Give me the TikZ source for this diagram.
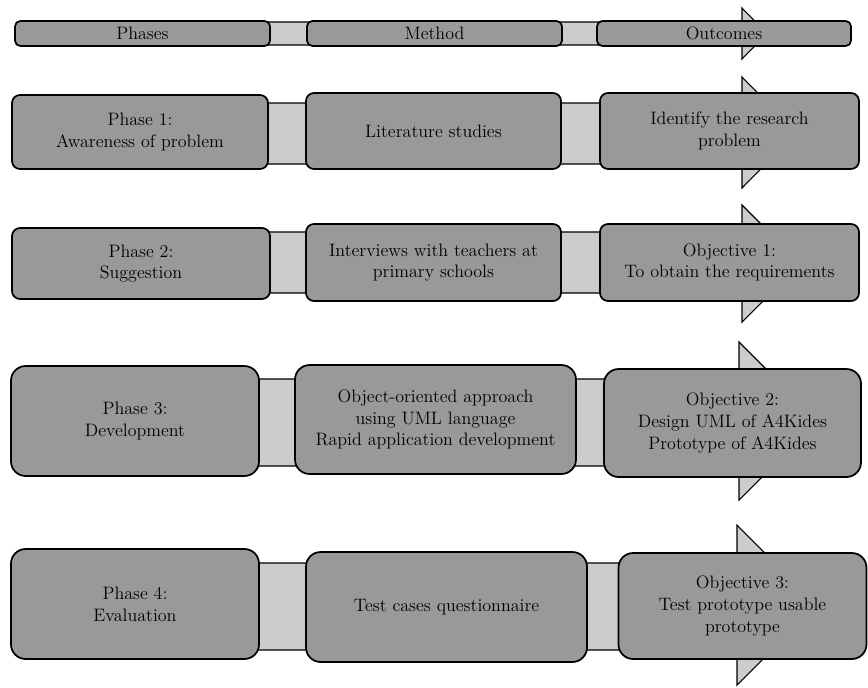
\documentclass[tikz,border=0pt]{standalone}
\usepackage{xcolor}
\definecolor{boxgray}{HTML}{999999}
\definecolor{bargray}{HTML}{CCCCCC}

\begin{document}
\begin{tikzpicture}[x=0.75pt, y=-0.75pt,
        stage/.style={draw, line width=1.3pt, fill=boxgray, align=center, inner sep=0pt, font=\fontsize{13.5}{16.3}\selectfont},
        headbox/.style={stage, rounded corners=4pt, minimum height=18.75pt},
        lowbox/.style={stage, rounded corners=6pt},
        tallbox/.style={stage, rounded corners=11pt},
        shaft/.style={draw, line width=0.8pt, fill=bargray, line join=miter}
    ]
    \useasboundingbox (0,0) rectangle (868,687);
    % Arrows behind the rows
    \draw[shaft] (142,22) -- (742,22) -- (742,8) -- (767,33.5) -- (742,59) -- (742,45) -- (142,45) -- cycle;
    \draw[shaft] (140,103) -- (742,103) -- (742,77) -- (797,132.5) -- (742,188) -- (742,164) -- (140,164) -- cycle;
    \draw[shaft] (141,232) -- (742,232) -- (742,205) -- (800.5,263.5) -- (742,322) -- (742,293) -- (141,293) -- cycle;
    \draw[shaft] (135,379) -- (739,379) -- (739,342) -- (818,421) -- (739,500) -- (739,466) -- (135,466) -- cycle;
    \draw[shaft] (135,563) -- (737,563) -- (737,525) -- (817,605) -- (737,685) -- (737,650) -- (135,650) -- cycle;
    % Header
    \node[headbox, minimum width=191.25pt] (ph) at (142.5,33.5) {Phases};
    \node[headbox, minimum width=191.25pt] (me) at (434.5,33.5) {Method};
    \node[headbox, minimum width=190.5pt] (oc) at (724,33.5) {Outcomes};
    % Phase 1
    \node[lowbox, minimum width=192pt, minimum height=55.5pt] (p1) at (140,132) {Phase 1:\\Awareness of problem};
    \node[lowbox, minimum width=191.25pt, minimum height=57pt] (m1) at (433.5,131) {Literature studies};
    \node[lowbox, minimum width=194.25pt, minimum height=57pt] (o1) at (729.5,131) {Identify the research\\problem};
    % Phase 2
    \node[lowbox, minimum width=193.5pt, minimum height=53.25pt] (p2) at (141,263.5) {Phase 2:\\Suggestion};
    \node[lowbox, minimum width=191.25pt, minimum height=57.75pt] (m2) at (433.5,262.5) {Interviews with teachers at\\primary schools};
    \node[lowbox, minimum width=194.25pt, minimum height=57.75pt] (o2) at (729.5,262.5) {Objective 1:\\To obtain the requirements};
    % Phase 3
    \node[tallbox, minimum width=186pt, minimum height=82.5pt] (p3) at (135,421) {Phase 3:\\Development};
    \node[tallbox, minimum width=210.75pt, minimum height=81.75pt] (m3) at (435.5,419.5) {Object-oriented approach\\using UML language\\Rapid application development};
    \node[tallbox, minimum width=192.75pt, minimum height=81pt] (o3) at (732.5,423) {Objective 2:\\Design UML of A4Kides\\Prototype of A4Kides};
    % Phase 4
    \node[tallbox, minimum width=186pt, minimum height=82.5pt] (p4) at (135,604) {Phase 4:\\Evaluation};
    \node[tallbox, minimum width=210.75pt, minimum height=82.5pt] (m4) at (446.5,607) {Test cases questionnaire};
    \node[tallbox, minimum width=186pt, minimum height=79.5pt] (o4) at (742.5,606) {Objective 3:\\Test prototype usable\\prototype};
\end{tikzpicture}
\end{document}
